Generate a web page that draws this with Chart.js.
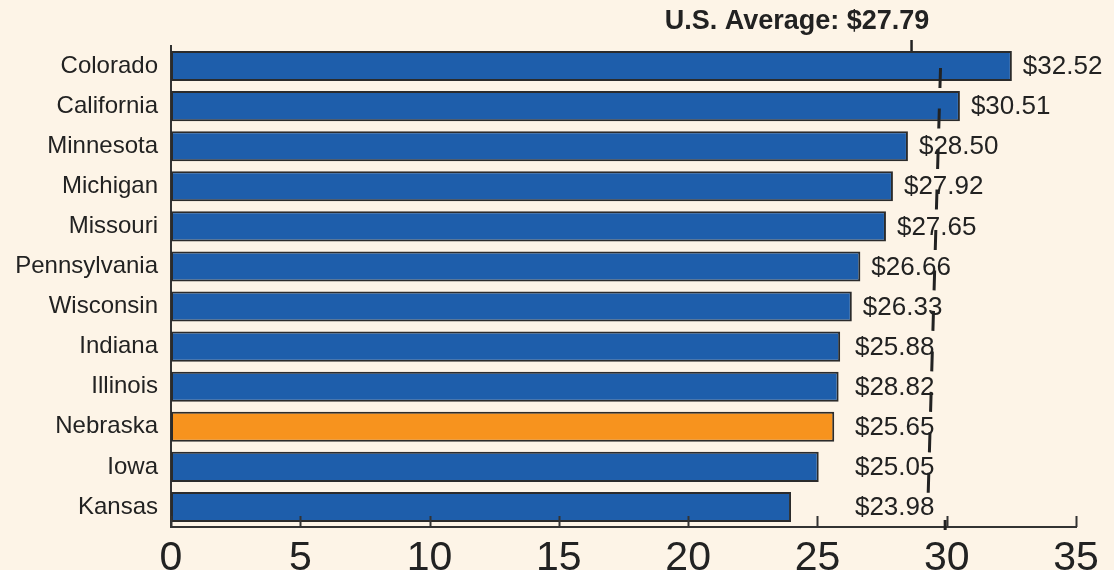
<!DOCTYPE html>
<html>
<head>
<meta charset="utf-8">
<script src="https://cdn.jsdelivr.net/npm/chart.js@4/dist/chart.umd.min.js"></script>
<style>
  html, body { margin: 0; padding: 0; background: #fdf4e7; }
  #wrap { width: 1114px; height: 570px; }
</style>
</head>
<body>
<div id="wrap"><canvas id="wageChart" width="1114" height="570"></canvas></div>
<script>
// states, top to bottom
const states = ['Colorado', 'California', 'Minnesota', 'Michigan', 'Missouri', 'Pennsylvania',
  'Wisconsin', 'Indiana', 'Illinois', 'Nebraska', 'Iowa', 'Kansas'];
const wages = [32.52, 30.51, 28.50, 27.92, 27.65, 26.66, 26.33, 25.88, 25.82, 25.65, 25.05, 23.98];
// printed labels (as shown on the original, Illinois included)
const wageLabels = ['$32.52', '$30.51', '$28.50', '$27.92', '$27.65', '$26.66',
  '$26.33', '$25.88', '$28.82', '$25.65', '$25.05', '$23.98'];
const highlight = 'Nebraska';
const xTicks = [0, 5, 10, 15, 20, 25, 30, 35];
const avgTitle = 'U.S. Average: $27.79';
// where the dashed average marker sits (top and bottom of its slant)
const avgLineTop = 29.76;
const avgLineBottom = 29.28;
const avgTitleTick = 28.64;
const avgAxisMark = 29.94;

const BLUE = '#1e5eab';
const ORANGE = '#f7931e';
const INK = '#222222';
const FONT = '"Liberation Sans", Arial, sans-serif';

const overlay = {
  id: 'overlay',
  afterDatasetsDraw(chart) {
    const { ctx, scales: { x, y } } = chart;
    const meta = chart.getDatasetMeta(0);
    ctx.save();

    // value labels
    ctx.font = '26px ' + FONT;
    ctx.fillStyle = INK;
    ctx.textBaseline = 'middle';
    ctx.textAlign = 'left';
    const minX = x.getPixelForValue(26.45);
    meta.data.forEach((bar, i) => {
      const lx = Math.max(bar.x + 11, minX);
      ctx.fillText(wageLabels[i], lx, bar.y + 1);
    });

    // dashed average line
    ctx.strokeStyle = INK;
    ctx.lineWidth = 3;
    ctx.setLineDash([20, 20.5]);
    ctx.beginPath();
    ctx.moveTo(x.getPixelForValue(avgLineTop), y.top + 22);
    ctx.lineTo(x.getPixelForValue(avgLineBottom), y.bottom - 30);
    ctx.stroke();
    ctx.setLineDash([]);

    // small mark under the title
    ctx.lineWidth = 2.5;
    ctx.beginPath();
    ctx.moveTo(x.getPixelForValue(avgTitleTick), 40);
    ctx.lineTo(x.getPixelForValue(avgTitleTick), 51);
    ctx.stroke();

    // stub of the line at the axis
    ctx.lineWidth = 3;
    ctx.beginPath();
    ctx.moveTo(x.getPixelForValue(avgAxisMark), y.bottom - 7);
    ctx.lineTo(x.getPixelForValue(avgAxisMark), y.bottom + 3);
    ctx.stroke();

    // title
    ctx.font = 'bold 27px ' + FONT;
    ctx.textAlign = 'center';
    ctx.textBaseline = 'middle';
    ctx.fillText(avgTitle, 797, 22);

    // inward tick marks on the x axis
    ctx.strokeStyle = '#333';
    ctx.lineWidth = 2;
    xTicks.forEach(t => {
      const px = Math.round(x.getPixelForValue(t)) + 0.5;
      ctx.beginPath();
      ctx.moveTo(px, y.bottom);
      ctx.lineTo(px, y.bottom - 11);
      ctx.stroke();
    });
    ctx.restore();
  }
};

const ctx = document.getElementById('wageChart').getContext('2d');
new Chart(ctx, {
  type: 'bar',
  data: {
    labels: states,
    datasets: [{
      data: wages,
      backgroundColor: states.map(s => s === highlight ? ORANGE : BLUE),
      borderColor: '#2b2b2b',
      borderWidth: 2,
      borderSkipped: false,
      barPercentage: 0.75,
      categoryPercentage: 1
    }]
  },
  options: {
    indexAxis: 'y',
    responsive: false,
    animation: false,
    layout: { padding: { top: 46, right: 38, left: 0, bottom: 0 } },
    plugins: {
      legend: { display: false },
      tooltip: { enabled: false }
    },
    scales: {
      x: {
        min: 0,
        max: 35,
        afterBuildTicks: s => { s.ticks = xTicks.map(v => ({ value: v })); },
        afterFit: s => { s.height = 43; },
        grid: { display: false, drawTicks: false },
        border: { display: true, color: '#333', width: 2 },
        ticks: {
          color: INK,
          padding: 11,
          maxRotation: 0,
          font: { family: FONT, size: 41, lineHeight: 1 }
        }
      },
      y: {
        afterFit: s => { s.width = 171; },
        grid: { display: false, drawTicks: false },
        border: { display: true, color: '#333', width: 2 },
        ticks: {
          color: INK,
          padding: 13,
          font: { family: FONT, size: 24 }
        }
      }
    }
  },
  plugins: [overlay]
});
</script>
</body>
</html>
